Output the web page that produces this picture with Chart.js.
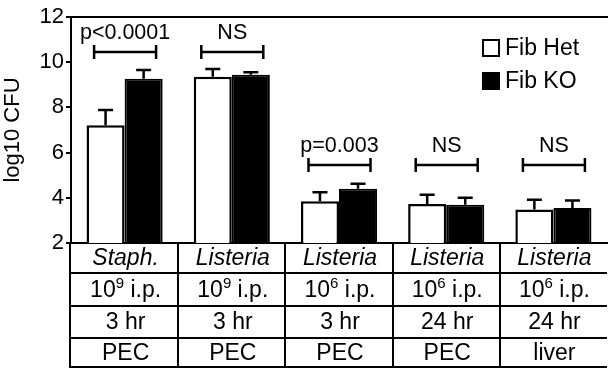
<!DOCTYPE html>
<html>
<head>
<meta charset="utf-8">
<script src="https://cdn.jsdelivr.net/npm/chart.js@4.4.1/dist/chart.umd.min.js"></script>
<style>
html,body{margin:0;padding:0;background:#fff;}
canvas{display:block;}
</style>
</head>
<body>
<canvas id="c" width="608" height="369"></canvas>
<script>
// ---- data ----
const organisms = ['Staph.', 'Listeria', 'Listeria', 'Listeria', 'Listeria'];
const doseExponents = ['9', '9', '6', '6', '6'];
const times = ['3 hr', '3 hr', '3 hr', '24 hr', '24 hr'];
const tissues = ['PEC', 'PEC', 'PEC', 'PEC', 'liver'];
const hetMean = [7.21, 9.36, 3.85, 3.73, 3.48];
const hetErr  = [0.67, 0.34, 0.40, 0.41, 0.43];
const koMean  = [9.27, 9.44, 4.40, 3.69, 3.55];
const koErr   = [0.39, 0.12, 0.22, 0.31, 0.33];
const sigLabels = ['p<0.0001', 'NS', 'p=0.003', 'NS', 'NS'];
const sigLevel  = [10.45, 10.45, 5.44, 5.44, 5.44];
const yMin = 2, yMax = 12, yStep = 2;
const seriesNames = ['Fib Het', 'Fib KO'];

const FONT = '"Liberation Sans", Arial, Helvetica, sans-serif';

const overlay = {
  id: 'overlay',
  afterDatasetsDraw(chart) {
    const ctx = chart.ctx;
    const xs = chart.scales.x, ys = chart.scales.y;
    const area = chart.chartArea;
    ctx.save();
    ctx.strokeStyle = '#000';
    ctx.fillStyle = '#000';
    ctx.lineWidth = 2.5;
    // error bars
    const errs = [hetErr, koErr];
    chart.data.datasets.forEach((ds, di) => {
      const meta = chart.getDatasetMeta(di);
      meta.data.forEach((bar, i) => {
        const yTop = ys.getPixelForValue(ds.data[i] + errs[di][i]);
        ctx.beginPath();
        ctx.moveTo(bar.x, bar.y);
        ctx.lineTo(bar.x, yTop);
        ctx.moveTo(bar.x - 7.5, yTop);
        ctx.lineTo(bar.x + 7.5, yTop);
        ctx.stroke();
      });
    });
    // significance brackets
    ctx.font = '21.5px ' + FONT;
    ctx.textAlign = 'center';
    ctx.textBaseline = 'middle';
    sigLabels.forEach((lab, i) => {
      const cx = xs.getPixelForValue(i) + 0.5;
      const y = Math.round(ys.getPixelForValue(sigLevel[i]));
      const half = 31;
      ctx.beginPath();
      ctx.moveTo(cx - half, y); ctx.lineTo(cx + half, y);
      ctx.moveTo(cx - half, y - 7); ctx.lineTo(cx - half, y + 7);
      ctx.moveTo(cx + half, y - 7); ctx.lineTo(cx + half, y + 7);
      ctx.stroke();
      ctx.fillText(lab, cx, y - 19);
    });
    // top border
    ctx.lineWidth = 2;
    ctx.beginPath();
    ctx.moveTo(area.left - 1, area.top);
    ctx.lineTo(chart.width, area.top);
    ctx.stroke();
    // legend
    ctx.font = '23px ' + FONT;
    ctx.textAlign = 'left';
    const lx = 483, ly = [48, 81];
    chart.data.datasets.forEach((ds, di) => {
      if (di === 0) {
        ctx.fillStyle = '#fff';
        ctx.fillRect(lx, ly[di] - 8, 16, 16);
        ctx.strokeRect(lx, ly[di] - 8, 16, 16);
      } else {
        ctx.fillStyle = '#000';
        ctx.fillRect(lx - 1, ly[di] - 9, 18, 18);
      }
      ctx.fillStyle = '#000';
      ctx.fillText(ds.label, lx + 22, ly[di] + 1);
    });
    // table
    const rowEdges = [area.bottom, 273, 306, 338, chart.height - 2];
    const n = organisms.length;
    const step = xs.getPixelForValue(1) - xs.getPixelForValue(0);
    const left = area.left - 1;
    const right = chart.width - 1;
    ctx.beginPath();
    for (let r = 1; r < rowEdges.length; r++) {
      ctx.moveTo(left, rowEdges[r]); ctx.lineTo(right, rowEdges[r]);
    }
    ctx.moveTo(left, area.bottom); ctx.lineTo(left, rowEdges[4] + 1);
    for (let i = 0; i < n - 1; i++) {
      const bx = Math.round(xs.getPixelForValue(i) + step / 2);
      ctx.moveTo(bx, area.bottom); ctx.lineTo(bx, rowEdges[4] + 1);
    }
    ctx.stroke();
    const rowMid = r => (rowEdges[r] + rowEdges[r + 1]) / 2 + 1;
    for (let i = 0; i < n; i++) {
      const cx = xs.getPixelForValue(i) + 1;
      ctx.textAlign = 'center';
      ctx.font = 'italic 23px ' + FONT;
      ctx.fillText(organisms[i], cx, rowMid(0));
      // dose with superscript
      ctx.font = '23px ' + FONT;
      const base = '10', rest = ' i.p.';
      const wBase = ctx.measureText(base).width;
      const wRest = ctx.measureText(rest).width;
      ctx.font = '15px ' + FONT;
      const wExp = ctx.measureText(doseExponents[i]).width;
      const total = wBase + wExp + wRest;
      let x0 = cx - total / 2;
      ctx.textAlign = 'left';
      ctx.font = '23px ' + FONT;
      ctx.fillText(base, x0, rowMid(1));
      ctx.font = '15px ' + FONT;
      ctx.fillText(doseExponents[i], x0 + wBase, rowMid(1) - 7);
      ctx.font = '23px ' + FONT;
      ctx.fillText(rest, x0 + wBase + wExp, rowMid(1));
      ctx.textAlign = 'center';
      ctx.fillText(times[i], cx, rowMid(2));
      ctx.fillText(tissues[i], cx, rowMid(3));
    }
    ctx.restore();
  }
};

new Chart(document.getElementById('c'), {
  type: 'bar',
  data: {
    labels: organisms,
    datasets: [
      { label: seriesNames[0], data: hetMean, backgroundColor: '#fff', borderColor: '#000', borderWidth: 2.5, borderSkipped: 'bottom' },
      { label: seriesNames[1], data: koMean, backgroundColor: '#000', borderColor: '#000', borderWidth: 2, borderSkipped: 'bottom' }
    ]
  },
  options: {
    responsive: false,
    animation: false,
    devicePixelRatio: 1,
    layout: { padding: { top: 17, right: 1, left: 0, bottom: 0 } },
    plugins: { legend: { display: false }, tooltip: { enabled: false } },
    datasets: { bar: { categoryPercentage: 0.71, barPercentage: 1.0 } },
    scales: {
      x: {
        type: 'category',
        grid: { display: false },
        border: { display: true, color: '#000', width: 2 },
        ticks: { display: false },
        afterFit: s => { s.height = 126; }
      },
      y: {
        min: yMin, max: yMax,
        ticks: { stepSize: yStep, color: '#000', font: { size: 22, family: FONT }, padding: 2 },
        grid: { drawOnChartArea: false, drawTicks: true, tickLength: 5, color: '#000', lineWidth: 2 },
        border: { display: true, color: '#000', width: 2 },
        title: { display: true, text: 'log10 CFU', color: '#000', font: { size: 22, family: FONT }, padding: { top: 0, bottom: 4 } },
        afterFit: s => { s.width = 71; }
      }
    }
  },
  plugins: [overlay]
});
</script>
</body>
</html>
